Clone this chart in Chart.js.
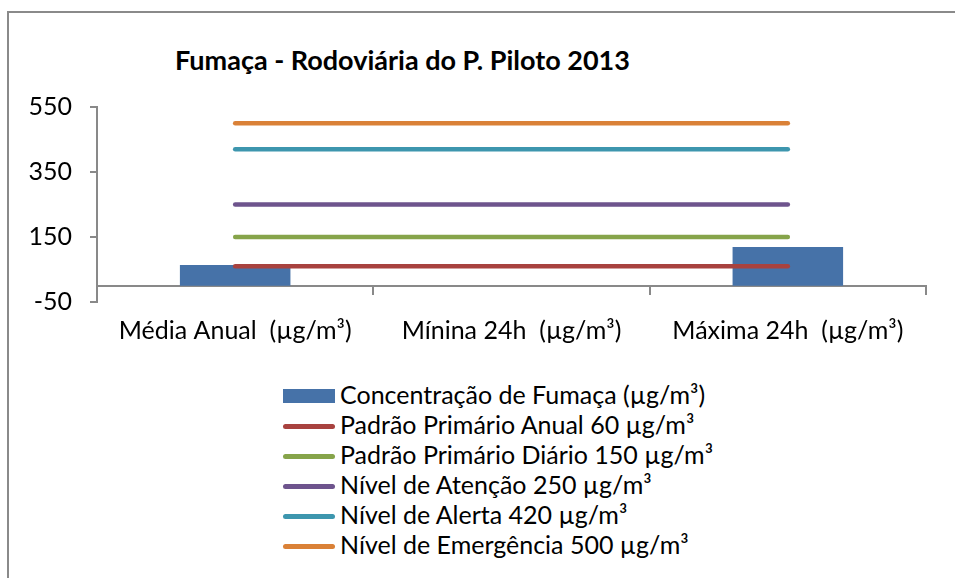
<!DOCTYPE html>
<html>
<head>
<meta charset="utf-8">
<title>Fumaça - Rodoviária do P. Piloto 2013</title>
<script src="https://cdn.jsdelivr.net/npm/chart.js@4.4.1/dist/chart.umd.min.js"></script>
<style>
    html, body { margin: 0; padding: 0; background: #fff; overflow: hidden; }
    #wrap { position: relative; width: 955px; height: 578px; overflow: hidden; font-family: Lato, sans-serif; color: #000; }
    #frame { position: absolute; left: 7px; top: 11px; width: 1000px; height: 1000px; border: 2px solid #8a8a8a; }
    #chart-title { position: absolute; left: 175px; top: 46px; font-weight: bold; font-size: 27px; line-height: 27px; white-space: nowrap; }
    #chart-box { position: absolute; left: 0; top: 0; }
    #legend { position: absolute; left: 283px; top: 381px; }
    .legend-row { display: flex; align-items: center; height: 30px; }
    .legend-swatch { display: inline-block; width: 52px; margin-right: 5px; }
    .legend-label { font-size: 25px; line-height: 30px; white-space: nowrap; position: relative; top: -2px; }
</style>
</head>
<body>
<div id="wrap">
    <div id="frame"></div>
    <div id="chart-title">Fumaça - Rodoviária do P. Piloto 2013</div>
    <div id="chart-box"><canvas id="fumaca-chart" width="955" height="360"></canvas></div>
    <div id="legend"></div>
</div>
<script>
// dados
const categories = ['Média Anual  (µg/m³)', 'Mínina 24h  (µg/m³)', 'Máxima 24h  (µg/m³)'];
const concentracao = [64, null, 119];
const padraoAnual = [60, 60, 60];
const padraoDiario = [150, 150, 150];
const nivelAtencao = [250, 250, 250];
const nivelAlerta = [420, 420, 420];
const nivelEmergencia = [500, 500, 500];
const yMin = -50;
const yMax = 550;
const yStep = 200;

const axisGrey = '#898989';
const tickFont = { family: 'Lato', size: 25 };

function lineSeries(label, data, color) {
    return {
        type: 'line',
        label: label,
        data: data,
        borderColor: color,
        backgroundColor: color,
        borderWidth: 4.5,
        borderCapStyle: 'round',
        pointRadius: 0,
        tension: 0,
        order: 0
    };
}

const chart = new Chart(document.getElementById('fumaca-chart').getContext('2d'), {
    data: {
        labels: categories,
        datasets: [
            {
                type: 'bar',
                label: 'Concentração de Fumaça (µg/m³)',
                data: concentracao,
                backgroundColor: '#4672a8',
                borderWidth: 0,
                categoryPercentage: 0.4,
                barPercentage: 1,
                order: 1
            },
            lineSeries('Padrão Primário Anual 60 µg/m³', padraoAnual, '#a8423f'),
            lineSeries('Padrão Primário Diário 150 µg/m³', padraoDiario, '#86a44a'),
            lineSeries('Nível de Atenção 250 µg/m³', nivelAtencao, '#6e548d'),
            lineSeries('Nível de Alerta 420 µg/m³', nivelAlerta, '#3d96ae'),
            lineSeries('Nível de Emergência 500 µg/m³', nivelEmergencia, '#da8137')
        ]
    },
    options: {
        responsive: false,
        animation: false,
        devicePixelRatio: 1,
        layout: { padding: { left: 10, right: 29, top: 107, bottom: 0 } },
        plugins: {
            legend: { display: false },
            title: { display: false },
            tooltip: { enabled: false }
        },
        scales: {
            x: {
                type: 'category',
                position: 'bottom',
                offset: true,
                grid: { display: false },
                border: { display: false },
                ticks: { color: '#000', font: tickFont, padding: 6, maxRotation: 0, autoSkip: false },
                afterFit(scale) { scale.height = 58; }
            },
            // eixo das categorias cruzando em zero
            x2: {
                type: 'category',
                position: { y: 0 },
                offset: true,
                grid: { display: true, offset: true, drawOnChartArea: false, drawTicks: true, tickLength: 8, color: axisGrey, lineWidth: 2 },
                border: { color: axisGrey, width: 2 },
                ticks: { display: false }
            },
            y: {
                type: 'linear',
                min: yMin,
                max: yMax,
                ticks: { stepSize: yStep, padding: 18, color: '#000', font: tickFont },
                grid: { drawOnChartArea: false, tickLength: 7, color: axisGrey, lineWidth: 2 },
                border: { color: axisGrey, width: 2 },
                afterFit(scale) { scale.width = 87; }
            }
        }
    }
});

function buildLegend() {
    const legend = document.getElementById('legend');
    chart.data.datasets.forEach(ds => {
        const row = document.createElement('div');
        row.className = 'legend-row';

        const swatch = document.createElement('span');
        swatch.className = 'legend-swatch';
        if (ds.type === 'bar') {
            swatch.style.background = ds.backgroundColor;
            swatch.style.height = '14px';
        } else {
            swatch.style.background = ds.borderColor;
            swatch.style.height = '5px';
            swatch.style.borderRadius = '3px';
        }

        const text = document.createElement('span');
        text.className = 'legend-label';
        text.textContent = ds.label;

        row.appendChild(swatch);
        row.appendChild(text);
        legend.appendChild(row);
    });
}

buildLegend();
</script>
</body>
</html>
